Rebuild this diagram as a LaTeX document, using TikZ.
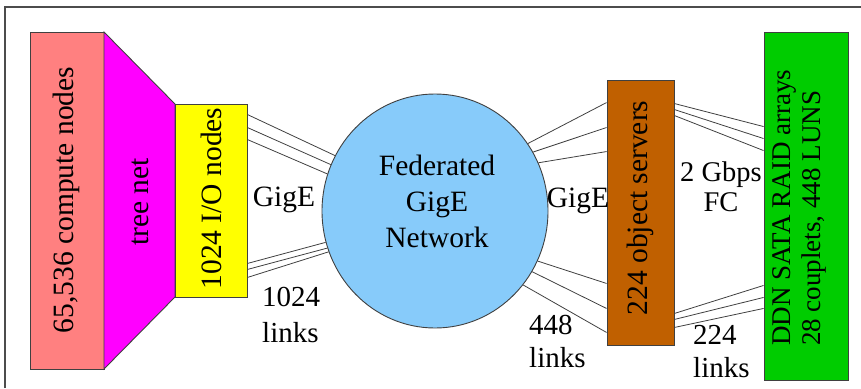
\documentclass[tikz,border=0pt]{standalone}
\usepackage{fontspec}
\setmainfont{Liberation Serif}
\usetikzlibrary{shapes.geometric,calc}
\definecolor{pinkc}{HTML}{FF8080}
\definecolor{magc}{HTML}{FF00FF}
\definecolor{yelc}{HTML}{FFFF00}
\definecolor{bluec}{HTML}{87CBFA}
\definecolor{brownc}{HTML}{C06000}
\definecolor{greenc}{HTML}{00CC00}
\definecolor{edgec}{HTML}{404040}
\begin{document}
\begin{tikzpicture}[x=1pt,y=-1pt,
  box/.style={draw=edgec,line width=0.9pt,inner sep=0pt,rectangle},
  big/.style={font=\fontsize{29.5}{34}\selectfont,inner sep=0pt},
  lnk/.style={draw=edgec,line width=0.8pt}]
\useasboundingbox (0,0) rectangle (861,388);
\draw[gray!60!black,line width=1.5pt] (5,388) -- (5,7) -- (861,7);
% boxes
\node[box,fill=pinkc,minimum width=74pt,minimum height=337pt] (pink) at (67,200.5) {};
\coordinate (m1) at (104,32);
\coordinate (m2) at (175,104);
\coordinate (m3) at (175,297);
\coordinate (m4) at (104,369);
\filldraw[fill=magc,draw=edgec,line width=0.9pt] (m1) -- (m2) -- (m3) -- (m4) -- cycle;
\node[box,fill=yelc,minimum width=72pt,minimum height=193pt] (io) at (211,200.5) {};
\node[ellipse,draw=edgec,line width=0.9pt,fill=bluec,minimum width=226pt,minimum height=234pt,inner sep=0pt] (net) at (435,211) {};
\node[box,fill=brownc,minimum width=67pt,minimum height=265pt] (obj) at (640.5,212.5) {};
\node[box,fill=greenc,minimum width=84pt,minimum height=348pt] (ddn) at (806,206) {};
% box texts
\node[big,rotate=90] (pinkt) at (66,200) {65,536 compute nodes};
\node[big,rotate=90] (treet) at (140,202) {tree net};
\node[big,rotate=90] (iot) at (211,198.5) {1024 I/O nodes};
\node[big,rotate=90] (objt) at (640.5,208) {224 object servers};
\node[font=\fontsize{27}{30}\selectfont,inner sep=0pt,rotate=90,anchor=west,align=left] (ddnt) at (799,346) {DDN SATA RAID arrays\\28 couplets, 448 LUNS};
\node[big,anchor=north,align=center,font=\fontsize{29.5}{36}\selectfont] (nett) at (437,155) {Federated\\GigE\\Network};
% io -> net
\draw[lnk] ($(io.north east)+(0,11)$) -- (net.151.8);
\draw[lnk] ($(io.north east)+(0,24)$) -- (net.156.2);
\draw[lnk] ($(io.north east)+(0,36)$) -- (net.161.4);
\draw[lnk] ($(io.south east)+(0,-34)$) -- (net.196.7);
\draw[lnk] ($(io.south east)+(0,-28)$) -- (net.199.2);
\draw[lnk] ($(io.south east)+(0,-20)$) -- (net.201.7);
% net -> obj
\draw[lnk] (net.36.4) -- ($(obj.north west)+(0,23)$);
\draw[lnk] (net.31.4) -- ($(obj.north west)+(0,48)$);
\draw[lnk] (net.25) -- ($(obj.north west)+(0,72)$);
\draw[lnk] (net.-26.8) -- ($(obj.south west)+(0,-62)$);
\draw[lnk] (net.-32.7) -- ($(obj.south west)+(0,-37)$);
\draw[lnk] (net.-40.6) -- ($(obj.south west)+(0,-13)$);
% obj -> ddn
\draw[lnk] ($(obj.north east)+(0,24)$) -- ($(ddn.north west)+(0,95)$);
\draw[lnk] ($(obj.north east)+(0,30)$) -- ($(ddn.north west)+(0,107)$);
\draw[lnk] ($(obj.north east)+(0,36)$) -- ($(ddn.north west)+(0,119)$);
\draw[lnk] ($(obj.south east)+(0,-32)$) -- ($(ddn.south west)+(0,-95)$);
\draw[lnk] ($(obj.south east)+(0,-26)$) -- ($(ddn.south west)+(0,-83)$);
\draw[lnk] ($(obj.south east)+(0,-18)$) -- ($(ddn.south west)+(0,-72)$);
% labels
\node[big,anchor=base] (g1) at (284,206) {GigE};
\node[big,anchor=base] (g2) at (578,207) {GigE};
\node[big,anchor=north,align=center,font=\fontsize{28.5}{30}\selectfont] (fc) at (721,162) {2 Gbps\\FC};
\node[big,anchor=north west,align=left,font=\fontsize{29}{36}\selectfont] (l1) at (262,287) {1024\\links};
\node[big,anchor=north west,align=left,font=\fontsize{29}{33}\selectfont] (l2) at (529,315) {448\\links};
\node[big,anchor=north west,align=left,font=\fontsize{29}{33}\selectfont] (l3) at (693,325) {224\\links};
\end{tikzpicture}
\end{document}
